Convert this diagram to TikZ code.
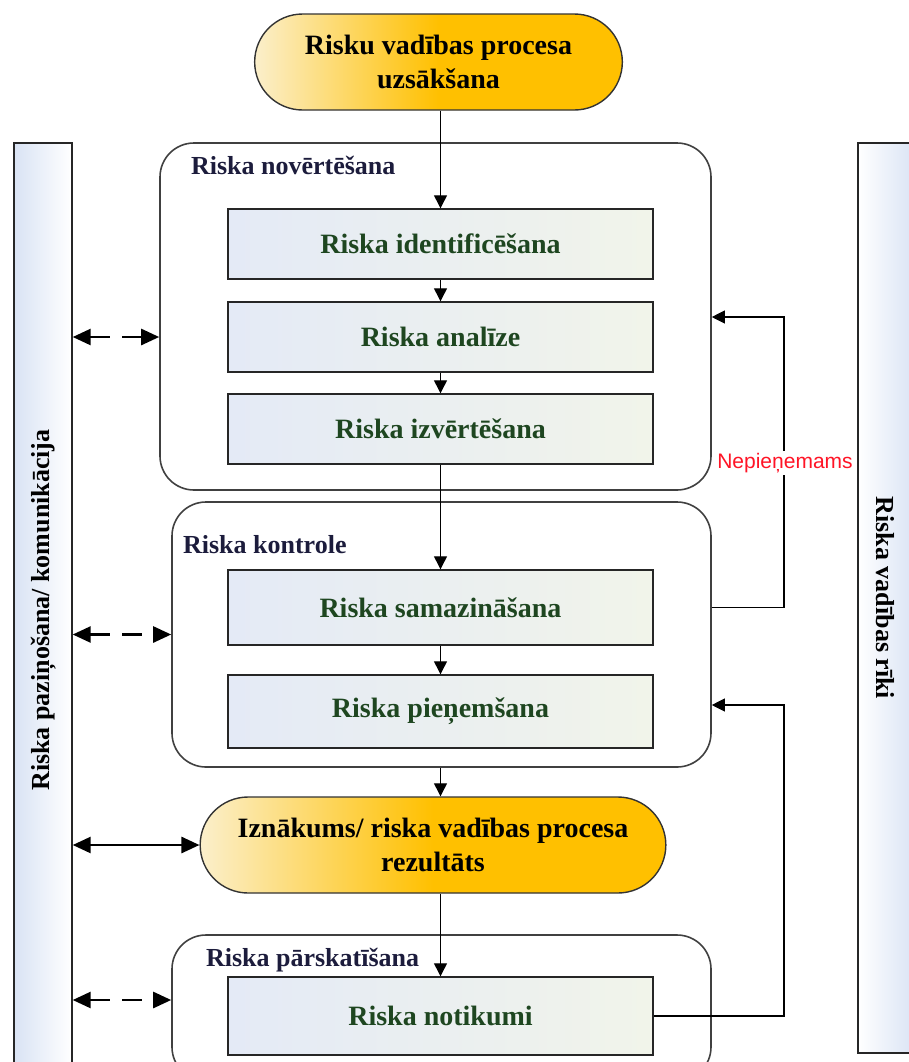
\documentclass[tikz,border=0pt]{standalone}
\usepackage{fontspec}
\setmainfont{Liberation Serif}
\newfontfamily\warnfont{Liberation Sans}
\usepackage{xcolor}
\usetikzlibrary{arrows.meta, shapes.misc}

\definecolor{stadgold}{HTML}{FFC000}
\definecolor{stadlight}{HTML}{FBEFCB}
\definecolor{boxblue}{HTML}{E4EAF6}
\definecolor{boxgreen}{HTML}{F1F4EA}
\definecolor{boxtext}{HTML}{1E4620}
\definecolor{labeltext}{HTML}{1C1C3C}
\definecolor{barblue}{HTML}{D9E3F4}
\definecolor{warnred}{HTML}{FF1426}

\pgfdeclarehorizontalshading{stadshade}{100bp}{color(0bp)=(stadlight); color(25bp)=(stadlight); color(50bp)=(stadgold); color(100bp)=(stadgold)}

\tikzset{
    stadium/.style={rounded rectangle, draw=black!80, line width=0.7pt, shading=stadshade,
        minimum height=48pt, align=center, font=\fontsize{14}{17}\selectfont\bfseries},
    stepbox/.style={rectangle, draw=black!85, line width=0.7pt, left color=boxblue, right color=boxgreen,
        minimum width=212.5pt, minimum height=35pt, text=boxtext, font=\fontsize{14}{17}\selectfont\bfseries},
    stage/.style={rectangle, rounded corners=17pt, draw=black!75, line width=0.8pt},
    stagelabel/.style={anchor=west, text=labeltext, font=\fontsize{13}{15}\selectfont\bfseries},
    sidebar/.style={rectangle, draw=black!85, line width=0.7pt, minimum width=29pt},
    sidetext/.style={font=\fontsize{13}{15}\selectfont\bfseries},
    flow/.style={-{Triangle[length=6.5pt,width=6.5pt]}, line width=0.6pt},
    back/.style={-{Triangle[length=6.5pt,width=6.5pt]}, line width=0.55pt},
    talk/.style={{Triangle[length=9pt,width=8pt]}-{Triangle[length=9pt,width=8pt]}, line width=1.3pt},
}

\begin{document}
\begin{tikzpicture}[x=0.5pt, y=-0.5pt]
    \useasboundingbox (0,0) rectangle (909,1062);

    % side bars
    \node[sidebar, minimum height=473.5pt, left color=barblue, right color=white] (comm) at (43,616.5) {};
    \node[sidebar, minimum height=455pt, left color=white, right color=barblue] (tools) at (887,598) {};
    \node[sidetext, rotate=90] (commtext) at (44,610) {Riska paziņošana/ komunikācija};
    \node[sidetext, rotate=-90] (toolstext) at (885,598) {Riska vadības rīki};

    % stage frames
    \node[stage, minimum width=275.5pt, minimum height=173.5pt] (assess) at (435.5,316.5) {};
    \node[stage, minimum width=269.5pt, minimum height=132.5pt] (control) at (441.5,634.5) {};
    \node[stage, minimum width=269.5pt, minimum height=73pt] (review) at (441.5,1008) {};
    \node[stagelabel] (assesslbl) at (184,165) {Riska novērtēšana};
    \node[stagelabel] (controllbl) at (176,545) {Riska kontrole};
    \node[stagelabel] (reviewlbl) at (199,960) {Riska pārskatīšana};

    % start and result
    \node[stadium, minimum width=190.5pt] (start) at (438.5,62) {Risku vadības procesa\\uzsākšana};
    \node[stadium, minimum width=239.5pt] (izn) at (433,845) {Iznākums/ riska vadības procesa\\rezultāts};

    % steps
    \node[stepbox] (ident) at (440.5,244) {Riska identificēšana};
    \node[stepbox] (anal) at (440.5,337) {Riska analīze};
    \node[stepbox] (izv) at (440.5,429) {Riska izvērtēšana};
    \node[stepbox, minimum height=37.5pt] (sam) at (440.5,607.5) {Riska samazināšana};
    \node[stepbox, minimum height=36.5pt] (pien) at (440.5,711.5) {Riska pieņemšana};
    \node[stepbox, minimum height=39pt] (notik) at (440.5,1016) {Riska notikumi};

    % main flow
    \draw[flow] (start.south -| ident.north) -- (ident.north);
    \draw[flow] (ident) -- (anal);
    \draw[flow] (anal) -- (izv);
    \draw[flow] (izv) -- (sam);
    \draw[flow] (sam) -- (pien);
    \draw[flow] (control.south -| pien.south) -- (izn.north -| pien.south);
    \draw[flow] (izn.south -| notik.north) -- (notik.north);

    % loops back
    \coordinate (redo) at (784,317);
    \coordinate (recheck) at (784,705);
    \draw[back] (control.east |- sam.east) -| (redo) -- (redo -| assess.east);
    \draw[back] (notik.east) -| (recheck) -- (recheck -| control.east);
    \node[text=warnred, fill=white, inner sep=1pt, font=\warnfont\fontsize{10.5}{12}\selectfont] (nep) at (785,463) {Nepieņemams};

    % communication
    \draw[talk, dash pattern=on 10pt off 6pt] (comm.east |- anal.west) -- (assess.west |- anal.west);
    \draw[talk, dash pattern=on 10pt off 6pt] (comm.east |- control.west) -- (control.west);
    \draw[talk] (comm.east |- izn.west) -- (izn.west);
    \draw[talk, dash pattern=on 10pt off 6pt] ([yshift=4pt]review.west -| comm.east) -- ([yshift=4pt]review.west);
\end{tikzpicture}
\end{document}
